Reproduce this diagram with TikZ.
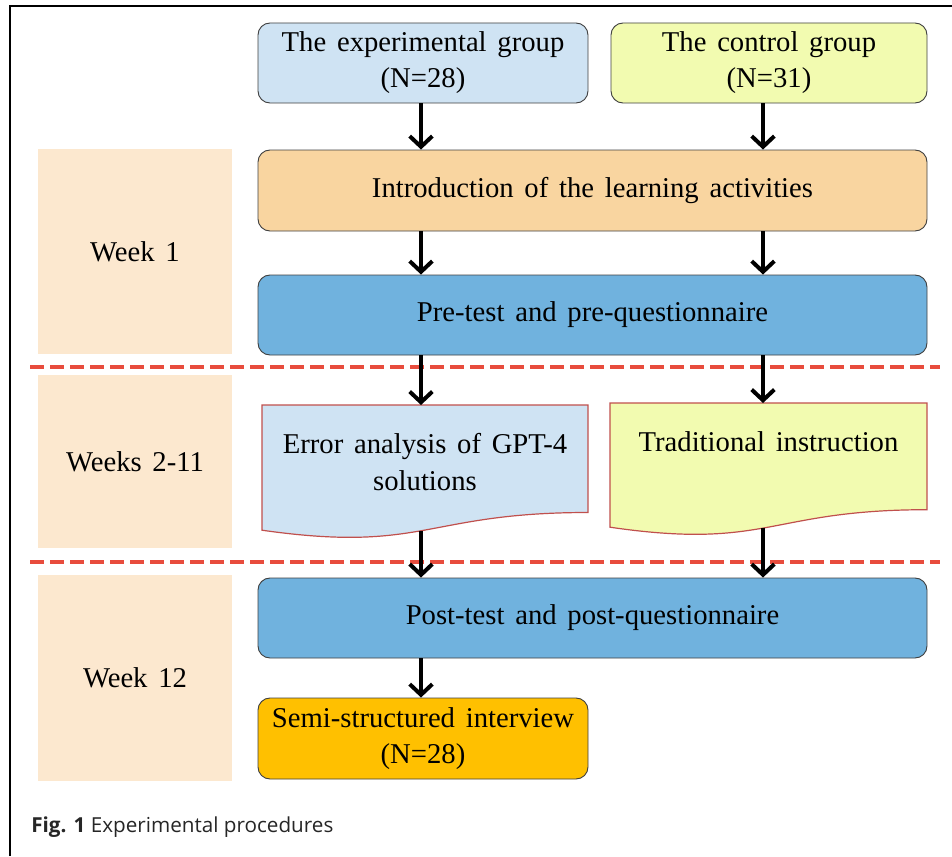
\documentclass[tikz,border=0pt]{standalone}
\usepackage{fontspec}
\setmainfont{Liberation Serif}[WordSpace=1.5]
\newfontfamily\capfont{Open Sans}
\usetikzlibrary{arrows.meta}
\definecolor{expblue}{RGB}{207,227,243}
\definecolor{ctrlyel}{RGB}{242,251,176}
\definecolor{introor}{RGB}{249,213,160}
\definecolor{testblue}{RGB}{112,178,222}
\definecolor{weekbg}{RGB}{252,232,207}
\definecolor{intvor}{RGB}{255,192,0}
\definecolor{dashred}{RGB}{232,76,61}
\definecolor{docedge}{RGB}{192,80,77}
\definecolor{edgegray}{RGB}{64,64,64}
\tikzset{
  box/.style={draw=edgegray, line width=0.7pt, rounded corners=9pt, align=center, font=\fontsize{21.5}{27}\selectfont},
  weekbox/.style={fill=weekbg, draw=none, align=center, font=\fontsize{21.5}{27}\selectfont},
  doc/.style={draw=docedge, line width=0.9pt},
  doctext/.style={align=center, font=\fontsize{21.5}{28}\selectfont},
  arr/.style={line width=3pt, -{Straight Barb[length=8pt,width=17pt]}},
  sep/.style={draw=dashred, line width=3pt, dash pattern=on 10.5pt off 4.5pt}
}
\begin{document}
\begin{tikzpicture}[x=0.75pt,y=-0.75pt]
\useasboundingbox (0,0) rectangle (952,856);
% frame
\draw[line width=1.5pt] (9.5,856) -- (9.5,6) -- (952,6);
\coordinate (colL) at (421,0);
\coordinate (colR) at (763,0);
% week boxes
\node[weekbox, minimum width=194*0.75pt, minimum height=205*0.75pt] (w1) at (135,251.5) {Week\ 1};
\node[weekbox, minimum width=194*0.75pt, minimum height=173*0.75pt] (w2) at (135,461.5) {Weeks\ 2-11};
\node[weekbox, minimum width=194*0.75pt, minimum height=206*0.75pt] (w12) at (135,678) {Week\ 12};
% boxes
\node[box, fill=expblue, minimum width=330*0.75pt, minimum height=80*0.75pt] (exp) at (423,63) {The experimental group\\(N=28)};
\node[box, fill=ctrlyel, minimum width=316*0.75pt, minimum height=80*0.75pt] (ctrl) at (769,63) {The control group\\(N=31)};
\node[box, fill=introor, minimum width=669*0.75pt, minimum height=81*0.75pt] (intro) at (592.5,190.5) {Introduction of the learning activities};
\node[box, fill=testblue, minimum width=669*0.75pt, minimum height=80*0.75pt] (pre) at (592.5,315) {Pre-test and pre-questionnaire};
\node[box, fill=testblue, minimum width=669*0.75pt, minimum height=80*0.75pt] (post) at (592.5,618) {Post-test and post-questionnaire};
\node[box, fill=intvor, minimum width=330*0.75pt, minimum height=81*0.75pt] (intv) at (423,738.5) {Semi-structured interview\\(N=28)};
% document shapes
\draw[doc, fill=expblue] (262,405) coordinate (eTL) -- (588,405) -- (588,512.5)
  .. controls (425,512.5) and (425,553.4) .. (262,530.2) coordinate[pos=0.515] (eB) -- cycle;
\draw[doc, fill=ctrlyel] (610,403) coordinate (tTL) -- (927,403) -- (927,509.7)
  .. controls (768.5,509.7) and (768.5,550.3) .. (610,527.2) coordinate[pos=0.515] (tB) -- cycle;
\node[doctext] (etext) at (425,462) {Error analysis of GPT-4\\solutions};
\node[doctext] (ttext) at (768.5,442) {Traditional instruction};
% separators
\coordinate (s1a) at (30,367); \coordinate (s1b) at (940,367);
\coordinate (s2a) at (30,562); \coordinate (s2b) at (940,562);
\draw[sep] (s1a) -- (s1b);
\draw[sep] (s2a) -- (s2b);
% arrows
\draw[arr] (exp.south -| colL) -- (intro.north -| colL);
\draw[arr] (ctrl.south -| colR) -- (intro.north -| colR);
\draw[arr] (intro.south -| colL) -- (pre.north -| colL);
\draw[arr] (intro.south -| colR) -- (pre.north -| colR);
\draw[arr] (pre.south -| colL) -- (eTL -| colL);
\draw[arr] (pre.south -| colR) -- (tTL -| colR);
\draw[arr] (colL |- eB) -- (post.north -| colL);
\draw[arr] (colR |- tB) -- (post.north -| colR);
\draw[arr] (post.south -| colL) -- (intv.north -| colL);
% caption
\node[anchor=base west, inner sep=0pt, text=black!85, font=\capfont\fontsize{15.5}{18}\selectfont] (cap) at (31,832) {\textbf{Fig. 1} Experimental procedures};
\end{tikzpicture}
\end{document}
